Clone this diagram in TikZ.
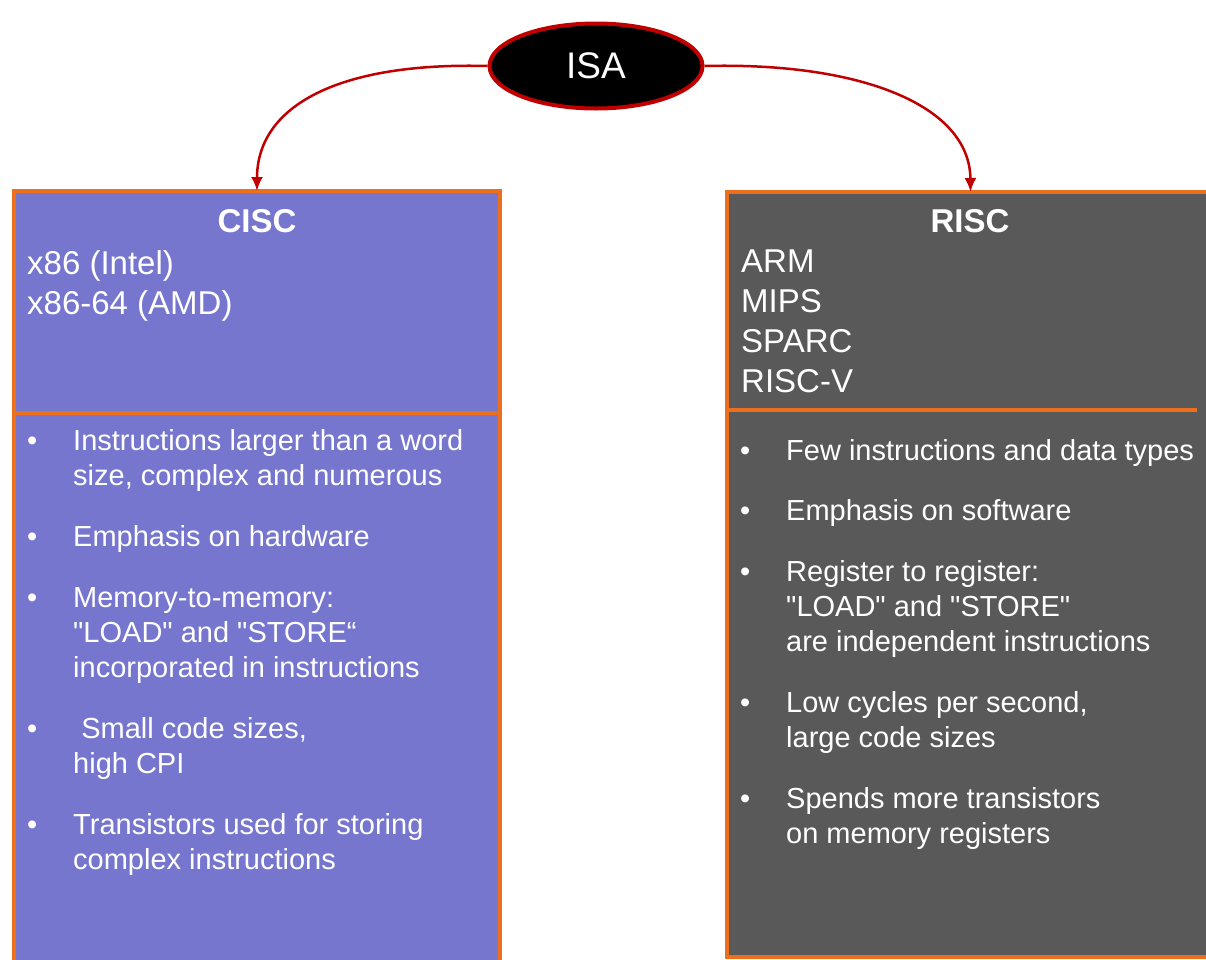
\documentclass[tikz,border=0pt]{standalone}
\usepackage{fontspec}
\setmainfont{Liberation Sans}[Ligatures=TeXOff]
\usetikzlibrary{arrows.meta,shapes.geometric}
\definecolor{ciscfill}{HTML}{7676CF}
\definecolor{riscfill}{HTML}{595959}
\definecolor{rim}{HTML}{EB6F1C}
\definecolor{isared}{HTML}{C00000}
\begin{document}
\begin{tikzpicture}[x=1pt,y=-1pt,
  panel/.style={draw=rim, line width=3.5pt, inner sep=0pt, outer sep=0pt, anchor=north west},
  rule/.style={draw=rim, line width=3.5pt},
  headtext/.style={text=white, inner sep=0pt, anchor=base west, font=\fontsize{33}{40}\selectfont},
  titletext/.style={text=white, inner sep=0pt, anchor=base, font=\fontsize{33}{40}\selectfont\bfseries},
  itemtext/.style={text=white, inner sep=0pt, anchor=base west, font=\fontsize{29}{35}\selectfont},
  link/.style={draw=isared, line width=2.5pt, -{Latex[length=14pt,width=12pt]}}]

% page frame
\useasboundingbox (0,0) rectangle (1206,959);
\clip (0,0) rectangle (1206,959);
\fill[white] (0,0) rectangle (1206,959);

% the two panels
\node[panel, fill=ciscfill, minimum width=486pt, minimum height=784pt] (cisc) at (14,191) {};
\node[panel, fill=riscfill, minimum width=487pt, minimum height=765pt] (risc) at (727,192) {};
\draw[rule] (14,413) -- (500,413);
\draw[rule] (727,410) -- (1197,410);

% root node
\node[ellipse, draw=isared, line width=4pt, fill=black, minimum width=213pt, minimum height=85pt,
      inner sep=0pt, text=white, font=\fontsize{37}{40}\selectfont] (isa) at (596,66) {ISA};

% branches
\draw[link] (isa.west) .. controls (340,62) and (257,105) .. (cisc.north);
\draw[link] (isa.east) .. controls (860,62) and (970,105) .. (risc.north);

% CISC panel text
\node[titletext] (cisct) at (257,232) {CISC};
\node[headtext] (cisc1) at (27,274) {x86 (Intel)};
\node[headtext] (cisc2) at (27,314) {x86-64 (AMD)};

\node[itemtext] (cb1) at (27,450) {•};
\node[itemtext] (cl1a) at (73,450) {Instructions larger than a word};
\node[itemtext] (cl1b) at (73,485) {size, complex and numerous};
\node[itemtext] (cb2) at (27,546) {•};
\node[itemtext] (cl2a) at (73,546) {Emphasis on hardware};
\node[itemtext] (cb3) at (27,607) {•};
\node[itemtext] (cl3a) at (73,607) {Memory-to-memory:};
\node[itemtext] (cl3b) at (73,642) {"LOAD" and "STORE“};
\node[itemtext] (cl3c) at (73,677) {incorporated in instructions};
\node[itemtext] (cb4) at (27,738) {•};
\node[itemtext] (cl4a) at (73,738) {\ Small code sizes,};
\node[itemtext] (cl4b) at (73,773) {high CPI};
\node[itemtext] (cb5) at (27,834) {•};
\node[itemtext] (cl5a) at (73,834) {Transistors used for storing};
\node[itemtext] (cl5b) at (73,869) {complex instructions};

% RISC panel text
\node[titletext] (risct) at (970,232) {RISC};
\node[headtext] (risc1) at (741,272) {ARM};
\node[headtext] (risc2) at (741,312) {MIPS};
\node[headtext] (risc3) at (741,352) {SPARC};
\node[headtext] (risc4) at (741,392) {RISC-V};

\node[itemtext] (rb1) at (740,460) {•};
\node[itemtext] (rl1a) at (786,460) {Few instructions and data types};
\node[itemtext] (rb2) at (740,520) {•};
\node[itemtext] (rl2a) at (786,520) {Emphasis on software};
\node[itemtext] (rb3) at (740,581) {•};
\node[itemtext] (rl3a) at (786,581) {Register to register:};
\node[itemtext] (rl3b) at (786,616) {"LOAD" and "STORE"};
\node[itemtext] (rl3c) at (786,651) {are independent instructions};
\node[itemtext] (rb4) at (740,712) {•};
\node[itemtext] (rl4a) at (786,712) {Low cycles per second,};
\node[itemtext] (rl4b) at (786,747) {large code sizes};
\node[itemtext] (rb5) at (740,808) {•};
\node[itemtext] (rl5a) at (786,808) {Spends more transistors};
\node[itemtext] (rl5b) at (786,843) {on memory registers};
\end{tikzpicture}
\end{document}
